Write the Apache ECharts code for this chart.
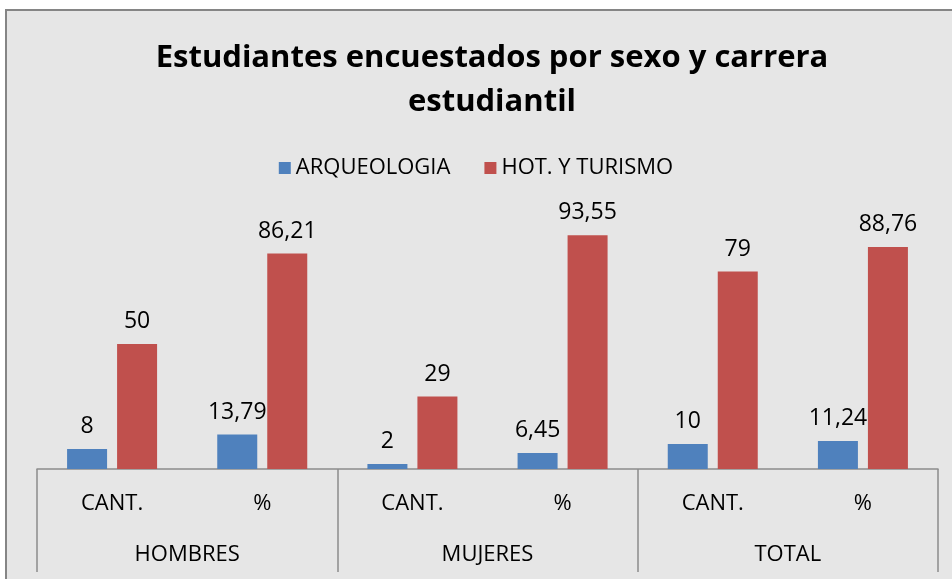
<!DOCTYPE html>
<html>
<head>
<meta charset="utf-8">
<script src="https://cdn.jsdelivr.net/npm/echarts@6/dist/echarts.min.js"></script>
<style>
  html, body { margin: 0; padding: 0; background: #fff; }
  #chart { width: 952px; height: 579px; }
</style>
</head>
<body>
<div id="chart"></div>
<script>
const subLabels = ['CANT.', '%', 'CANT.', '%', 'CANT.', '%']
const groups = ['HOMBRES', 'MUJERES', 'TOTAL']
const arqueologia = [8, 13.79, 2, 6.45, 10, 11.24]
const hotTurismo = [50, 86.21, 29, 93.55, 79, 88.76]

const font = '"Open Sans", "Noto Sans", sans-serif'
const fmt = p => String(p.value).replace('.', ',')

const labelStyle = {
  show: true,
  position: 'top',
  distance: 11,
  color: '#000',
  fontSize: 23,
  fontFamily: font,
  formatter: fmt
}

const chart = echarts.init(document.getElementById('chart'))
chart.setOption({
  animation: false,
  backgroundColor: '#fff',
  graphic: [
    {
      type: 'rect',
      z: -10,
      shape: { x: 6, y: 10, width: 960, height: 580 },
      style: { fill: '#e6e6e6', stroke: '#858585', lineWidth: 2 }
    }
  ],
  title: {
    text: 'Estudiantes encuestados por sexo y carrera\nestudiantil',
    left: 487,
    top: 31,
    textAlign: 'center',
    textStyle: {
      fontFamily: font,
      fontWeight: 'bold',
      fontSize: 31,
      lineHeight: 44,
      color: '#000'
    }
  },
  legend: {
    top: 152,
    left: 'center',
    itemWidth: 12,
    itemHeight: 12,
    itemGap: 34,
    icon: 'rect',
    textStyle: { fontFamily: font, fontSize: 22, color: '#000' },
    data: ['ARQUEOLOGIA', 'HOT. Y TURISMO']
  },
  grid: { left: 37, right: 14, top: 219, bottom: 110 },
  xAxis: [
    {
      type: 'category',
      data: subLabels,
      axisLine: { lineStyle: { color: '#8c8c8c', width: 1.5 } },
      axisTick: { show: false },
      axisLabel: { margin: 24, color: '#000', fontSize: 22, fontFamily: font }
    },
    {
      type: 'category',
      data: groups,
      position: 'bottom',
      axisLine: { show: false },
      axisTick: { show: true, length: 103, lineStyle: { color: '#8c8c8c', width: 1.5 } },
      axisLabel: { margin: 75, color: '#000', fontSize: 22, fontFamily: font }
    }
  ],
  yAxis: {
    type: 'value',
    min: 0,
    max: 100,
    show: false
  },
  series: [
    {
      name: 'ARQUEOLOGIA',
      type: 'bar',
      data: arqueologia,
      barWidth: 40,
      barGap: '25%',
      itemStyle: { color: '#4f81bd' },
      label: labelStyle
    },
    {
      name: 'HOT. Y TURISMO',
      type: 'bar',
      data: hotTurismo,
      barWidth: 40,
      itemStyle: { color: '#c0504d' },
      label: labelStyle
    }
  ]
})
</script>
</body>
</html>
